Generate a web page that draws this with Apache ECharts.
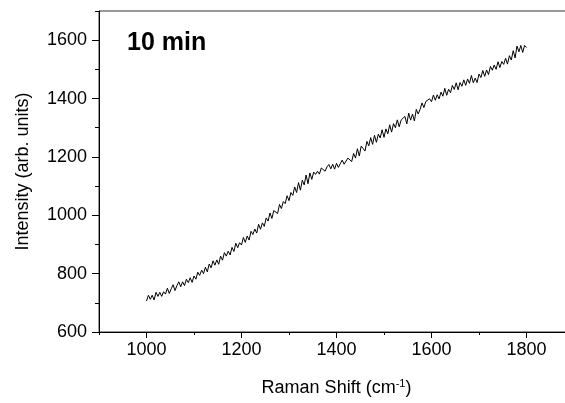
<!DOCTYPE html>
<html>
<head>
<meta charset="utf-8">
<script src="https://cdn.jsdelivr.net/npm/echarts@6/dist/echarts.min.js"></script>
<style>html,body{margin:0;padding:0;background:#fff}#c{width:565px;height:403px}</style>
</head>
<body>
<div id="c"></div>
<script>
// Raman shift (cm-1), step 4 from 1000 to 1800
const shiftStart = 1000, shiftStep = 4;
const intensity = [
706,726,712,726,710, 736,722,736,722,738, 730,750,732,748,762, 742,759,772,755,772,
759,781,769,786,770, 792,781,805,794,812, 800,822,806,833,820, 844,829,847,832,860,
846,872,860,877,864, 890,876,904,889,906, 898,924,907,929,915, 945,934,953,939,969,
952,974,962,991,980, 1008,989,1016,1011,1006, 1037,1023,1047,1040,1067, 1050,1078,1068,1097,1078,
1112,1086,1120,1104,1138, 1108,1145,1123,1148,1140, 1151,1141,1162,1156,1151, 1166,1174,1159,1175,1158,
1178,1164,1177,1189,1175, 1174,1196,1190,1184,1212, 1196,1228,1203,1237,1229, 1220,1253,1238,1266,1243,
1274,1250,1278,1265,1293, 1267,1296,1279,1310,1285, 1314,1300,1327,1303,1326, 1322,1339,1313,1350,1326,
1347,1323,1363,1347,1363, 1385,1369,1390,1386,1399, 1389,1412,1394,1413,1399, 1422,1408,1435,1411,1432,
1420,1445,1431,1454,1430, 1455,1442,1464,1445,1467, 1452,1479,1454,1470,1455, 1484,1472,1496,1476,1498,
1482,1510,1497,1515,1500, 1526,1506,1527,1517,1538, 1518,1547,1532,1564,1539, 1580,1560,1582,1558,1582,
1575
];
const shifts = intensity.map((v, i) => shiftStart + i * shiftStep);
const xTicks = [1000, 1200, 1400, 1600, 1800];
const xMinorTicks = [900, 1000, 1100, 1200, 1300, 1400, 1500, 1600, 1700, 1800];
const yTicks = [600, 800, 1000, 1200, 1400, 1600];
const yMinorTicks = [600, 700, 800, 900, 1000, 1100, 1200, 1300, 1400, 1500, 1600, 1700];
const titleText = '10 min';

const FONT = '"Liberation Sans", Arial, sans-serif';
const chart = echarts.init(document.getElementById('c'));
const lineStyle = { color: '#000', width: 1 };
const fmt = v => String(v);
chart.setOption({
  animation: false,
  title: { text: titleText, left: 127, top: 31, padding: 0,
    textStyle: { fontFamily: FONT, fontSize: 25, fontWeight: 'bold', color: '#000' } },
  grid: { left: 99, top: 11, width: 475, height: 321, outerBoundsMode: 'none', containLabel: false,
    show: true, borderColor: '#333', borderWidth: 1 },
  xAxis: [{
    type: 'value', min: 900, max: 1900, position: 'bottom',
    name: '{a|Raman Shift (cm}{s|-1}{a|)}', nameLocation: 'middle', nameGap: 46,
    nameTextStyle: { rich: {
      a: { fontFamily: FONT, fontSize: 18, color: '#000' },
      s: { fontFamily: FONT, fontSize: 11, color: '#000', verticalAlign: 'top', padding: [0, 0, 9, 0] } } },
    axisLine: { show: true, lineStyle },
    axisTick: { show: true, inside: false, length: 6, lineStyle, customValues: xTicks },
    axisLabel: { customValues: xTicks, formatter: fmt, margin: 9, fontFamily: FONT, fontSize: 18, color: '#000' },
    splitLine: { show: false }
  }, {
    type: 'value', min: 900, max: 1900, position: 'bottom',
    axisLine: { show: false }, axisLabel: { show: false }, splitLine: { show: false },
    axisTick: { show: true, length: 3, lineStyle, customValues: xMinorTicks }
  }],
  yAxis: [{
    type: 'value', min: 600, max: 1700, position: 'left',
    name: 'Intensity (arb. units)', nameLocation: 'middle', nameGap: 67,
    nameTextStyle: { fontFamily: FONT, fontSize: 18, color: '#000' },
    axisLine: { show: true, lineStyle },
    axisTick: { show: true, length: 7, lineStyle, customValues: yTicks },
    axisLabel: { customValues: yTicks, formatter: fmt, margin: 12, fontFamily: FONT, fontSize: 18, color: '#000' },
    splitLine: { show: false }
  }, {
    type: 'value', min: 600, max: 1700, position: 'left',
    axisLine: { show: false }, axisLabel: { show: false }, splitLine: { show: false },
    axisTick: { show: true, length: 4, lineStyle, customValues: yMinorTicks }
  }],
  series: [{
    type: 'line', xAxisIndex: 0, yAxisIndex: 0,
    data: shifts.map((x, i) => [x, intensity[i]]),
    showSymbol: false, symbol: 'none',
    lineStyle: { color: '#000', width: 1 }
  }]
});
</script>
</body>
</html>
